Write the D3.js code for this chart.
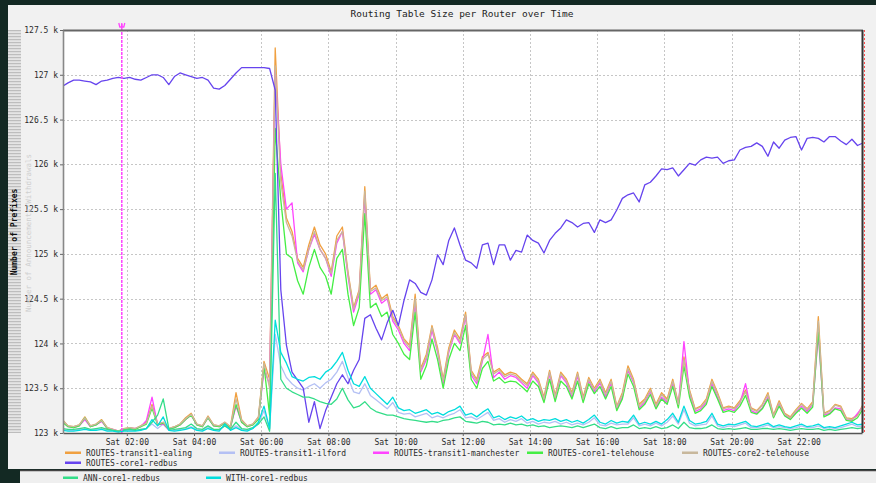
<!DOCTYPE html>
<html>
<head>
<meta charset="utf-8">
<script src="https://cdnjs.cloudflare.com/ajax/libs/d3/7.8.5/d3.min.js"></script>
<style>
html, body { margin: 0; padding: 0; background: #132923; }
#chart { width: 876px; height: 483px; }
text { font-family: "DejaVu Sans Mono", monospace; }
</style>
</head>
<body>
<div id="chart"></div>
<script>
// rrd samples: first one at 00:05, then one every 10 minutes
var startHour = 5 / 60;
var stepHours = 10 / 60;

var seriesNames = ["ROUTES-transit1-ealing", "ROUTES-transit1-ilford", "ROUTES-transit1-manchester",
    "ROUTES-core1-telehouse", "ROUTES-core2-telehouse", "ROUTES-core1-redbus",
    "ANN-core1-redbus", "WITH-core1-redbus"];

var ealing = [123.15,123.08,123.07,123.09,123.18,123.08,123.10,123.15,123.06,123.04,
123.02,123.05,123.06,123.05,123.08,123.12,123.32,123.10,123.12,123.05,
123.07,123.10,123.17,123.22,123.10,123.08,123.19,123.09,123.08,123.12,
123.07,123.45,123.15,123.08,123.10,123.18,123.80,123.60,127.30,125.90,
125.40,125.25,124.95,124.85,125.10,125.30,125.10,125.00,124.80,125.20,
125.30,124.80,124.40,124.60,125.75,124.60,124.65,124.50,124.55,124.30,
124.20,124.05,123.98,124.55,123.72,123.88,124.20,123.95,123.60,123.95,
124.15,124.05,124.35,123.70,123.60,123.85,123.90,123.68,123.72,123.65,
123.68,123.66,123.60,123.55,123.68,123.60,123.40,123.70,123.42,123.68,
123.60,123.45,123.68,123.40,123.62,123.50,123.60,123.45,123.60,123.30,
123.45,123.75,123.60,123.32,123.38,123.50,123.32,123.45,123.38,123.60,
123.33,123.85,123.48,123.27,123.30,123.38,123.60,123.45,123.28,123.30,
123.28,123.36,123.48,123.28,123.25,123.32,123.45,123.20,123.36,123.22,
123.18,123.26,123.33,123.27,123.35,124.30,123.22,123.25,123.32,123.30,
123.17,123.16,123.20,123.32];

var ilford = [123.04,123.03,123.03,123.04,123.05,123.03,123.04,123.05,123.03,123.03,
123.02,123.03,123.03,123.03,123.04,123.05,123.10,123.05,123.10,123.03,
123.03,123.04,123.05,123.07,123.04,123.03,123.06,123.04,123.03,123.08,
123.04,123.08,123.04,123.03,123.05,123.10,123.25,123.04,124.10,123.75,
123.62,123.55,123.50,123.48,123.52,123.55,123.50,123.56,123.60,123.68,
123.80,123.62,123.46,123.44,123.55,123.42,123.37,123.32,123.27,123.34,
123.23,123.21,123.22,123.18,123.20,123.22,123.17,123.19,123.17,123.20,
123.22,123.26,123.17,123.18,123.15,123.19,123.23,123.14,123.16,123.12,
123.15,123.13,123.16,123.11,123.13,123.10,123.12,123.11,123.13,123.10,
123.12,123.09,123.11,123.09,123.12,123.17,123.09,123.08,123.11,123.09,
123.10,123.10,123.17,123.08,123.10,123.08,123.11,123.08,123.12,123.19,
123.10,123.26,123.11,123.08,123.09,123.10,123.19,123.08,123.06,123.08,
123.07,123.09,123.11,123.06,123.06,123.07,123.09,123.06,123.07,123.06,
123.05,123.06,123.08,123.06,123.06,123.08,123.05,123.06,123.05,123.06,
123.08,123.10,123.07,123.08];

var manchester = [123.13,123.07,123.06,123.08,123.15,123.07,123.09,123.13,123.05,123.04,
123.02,123.04,123.05,123.05,123.07,123.14,123.40,123.09,123.10,123.04,
123.06,123.09,123.15,123.20,123.09,123.07,123.17,123.08,123.07,123.11,
123.06,123.30,123.12,123.07,123.09,123.16,123.70,123.55,127.05,126.00,
125.50,125.57,124.90,124.80,125.05,125.22,125.05,124.95,124.75,125.12,
125.25,124.75,124.35,124.55,125.65,124.55,124.60,124.45,124.50,124.25,
124.15,124.00,123.92,124.45,123.68,123.82,124.15,123.90,123.55,123.90,
124.10,124.00,124.30,123.65,123.55,123.80,124.10,123.62,123.68,123.60,
123.64,123.62,123.56,123.50,123.64,123.56,123.36,123.66,123.38,123.64,
123.56,123.40,123.64,123.36,123.58,123.46,123.56,123.40,123.56,123.27,
123.40,123.70,123.56,123.28,123.34,123.46,123.28,123.40,123.34,123.56,
123.30,124.02,123.44,123.24,123.27,123.34,123.55,123.40,123.25,123.27,
123.25,123.33,123.55,123.25,123.22,123.28,123.40,123.18,123.33,123.20,
123.16,123.23,123.30,123.24,123.32,124.10,123.20,123.22,123.28,123.27,
123.15,123.14,123.22,123.30];

var core1Telehouse = [123.12,123.07,123.06,123.08,123.17,123.07,123.09,123.14,123.05,123.03,
123.02,123.04,123.05,123.04,123.07,123.10,123.28,123.09,123.11,123.04,
123.06,123.09,123.15,123.20,123.09,123.07,123.17,123.08,123.07,123.11,
123.06,123.32,123.12,123.07,123.09,123.15,123.75,123.20,126.40,125.60,
125.00,124.95,124.70,124.55,124.85,125.05,124.85,124.75,124.55,124.95,
125.05,124.55,124.20,124.40,125.45,124.40,124.45,124.30,124.35,124.10,
124.00,123.88,123.82,124.35,123.60,123.75,124.05,123.82,123.50,123.82,
124.00,123.92,124.20,123.60,123.50,123.72,123.80,123.58,123.62,123.56,
123.58,123.57,123.52,123.46,123.58,123.52,123.34,123.60,123.35,123.58,
123.52,123.38,123.58,123.34,123.55,123.44,123.52,123.38,123.52,123.25,
123.38,123.66,123.52,123.26,123.32,123.43,123.27,123.38,123.32,123.52,
123.28,123.75,123.40,123.22,123.25,123.32,123.52,123.38,123.23,123.25,
123.23,123.30,123.42,123.23,123.21,123.27,123.38,123.17,123.30,123.19,
123.15,123.22,123.28,123.22,123.29,124.15,123.18,123.21,123.27,123.25,
123.14,123.13,123.17,123.27];

var core2Telehouse = [123.14,123.08,123.07,123.09,123.17,123.08,123.10,123.14,123.06,123.04,
123.02,123.05,123.06,123.05,123.08,123.11,123.30,123.10,123.12,123.05,
123.07,123.10,123.16,123.21,123.10,123.08,123.18,123.09,123.08,123.12,
123.07,123.38,123.14,123.08,123.10,123.17,123.78,123.50,127.10,125.80,
125.35,125.20,124.92,124.82,125.05,125.25,125.05,124.95,124.78,125.15,
125.25,124.78,124.38,124.58,125.70,124.58,124.62,124.48,124.52,124.28,
124.18,124.03,123.95,124.50,123.70,123.85,124.18,123.92,123.58,123.92,
124.12,124.02,124.32,123.68,123.58,123.82,123.88,123.66,123.70,123.63,
123.66,123.64,123.58,123.53,123.66,123.58,123.38,123.68,123.40,123.66,
123.58,123.43,123.66,123.38,123.60,123.48,123.58,123.43,123.58,123.29,
123.43,123.72,123.58,123.30,123.36,123.48,123.30,123.43,123.36,123.58,
123.32,123.82,123.46,123.26,123.29,123.36,123.58,123.43,123.27,123.29,
123.27,123.34,123.46,123.27,123.24,123.31,123.43,123.19,123.34,123.21,
123.17,123.25,123.32,123.26,123.33,124.25,123.21,123.24,123.31,123.29,
123.16,123.15,123.19,123.31];

var core1Redbus = [126.87,126.91,126.94,126.94,126.93,126.92,126.89,126.93,126.94,126.96,
126.97,126.96,126.97,126.95,126.94,126.97,127.00,127.00,126.97,126.89,
126.98,127.02,127.00,126.98,126.96,126.97,126.94,126.85,126.84,126.88,
126.95,127.02,127.08,127.08,127.08,127.08,127.08,127.07,126.83,124.60,
123.98,123.68,123.59,123.50,123.12,123.35,123.05,123.25,123.40,123.55,
123.65,123.55,123.70,123.82,124.28,124.32,124.17,124.04,124.23,124.37,
124.20,124.48,124.71,124.67,124.57,124.54,124.71,124.99,124.88,125.15,
125.29,125.10,124.93,124.90,124.84,125.10,125.12,124.88,125.10,125.10,
124.93,125.04,125.02,125.21,125.15,125.12,125.01,125.15,125.23,125.29,
125.38,125.35,125.30,125.34,125.35,125.24,125.38,125.35,125.38,125.49,
125.62,125.66,125.68,125.58,125.77,125.80,125.87,125.95,125.94,125.96,
125.87,125.94,126.01,125.99,126.05,126.08,126.07,126.08,126.01,126.04,
126.05,126.16,126.19,126.20,126.24,126.20,126.09,126.25,126.18,126.27,
126.30,126.31,126.16,126.29,126.30,126.29,126.25,126.31,126.31,126.26,
126.22,126.28,126.21,126.24];

var annCore1Redbus = [123.05,123.04,123.04,123.05,123.06,123.04,123.05,123.06,123.04,123.03,
123.02,123.03,123.04,123.03,123.04,123.05,123.12,123.20,123.38,123.05,
123.04,123.05,123.06,123.10,123.05,123.04,123.08,123.04,123.04,123.08,
123.04,123.12,123.05,123.04,123.06,123.10,123.18,123.02,125.90,123.60,
123.50,123.46,123.43,123.40,123.40,123.38,123.35,123.33,123.32,123.38,
123.50,123.37,123.28,123.30,123.35,123.28,123.24,123.22,123.20,123.20,
123.18,123.16,123.15,123.14,123.13,123.12,123.13,123.12,123.14,123.15,
123.17,123.18,123.13,123.12,123.11,123.13,123.12,123.09,123.10,123.09,
123.11,123.09,123.10,123.08,123.09,123.07,123.08,123.06,123.07,123.08,
123.07,123.06,123.08,123.06,123.08,123.10,123.06,123.05,123.07,123.05,
123.06,123.06,123.09,123.05,123.06,123.05,123.07,123.05,123.06,123.09,
123.05,123.12,123.06,123.05,123.05,123.06,123.09,123.05,123.04,123.05,
123.04,123.05,123.06,123.04,123.04,123.05,123.05,123.04,123.05,123.04,
123.03,123.04,123.05,123.04,123.04,123.05,123.03,123.04,123.03,123.04,
123.05,123.06,123.05,123.06];

var withCore1Redbus = [123.03,123.02,123.02,123.03,123.04,123.03,123.03,123.04,123.02,123.02,
123.01,123.02,123.02,123.02,123.03,123.05,123.15,123.08,123.18,123.03,
123.02,123.03,123.04,123.06,123.03,123.02,123.05,123.03,123.02,123.10,
123.03,123.06,123.03,123.02,123.05,123.12,123.30,123.05,124.26,123.90,
123.78,123.63,123.60,123.58,123.62,123.63,123.60,123.68,123.72,123.80,
123.90,123.70,123.55,123.52,123.63,123.50,123.44,123.38,123.32,123.40,
123.28,123.25,123.26,123.22,123.24,123.26,123.21,123.23,123.20,123.24,
123.26,123.30,123.20,123.22,123.18,123.23,123.27,123.17,123.19,123.15,
123.18,123.16,123.19,123.14,123.16,123.13,123.15,123.14,123.16,123.13,
123.15,123.12,123.14,123.11,123.15,123.20,123.12,123.10,123.14,123.11,
123.13,123.12,123.20,123.10,123.12,123.10,123.13,123.10,123.15,123.22,
123.12,123.30,123.14,123.10,123.11,123.13,123.22,123.10,123.08,123.10,
123.09,123.11,123.13,123.08,123.07,123.09,123.11,123.07,123.09,123.07,
123.06,123.08,123.10,123.07,123.08,123.10,123.06,123.07,123.06,123.08,
123.10,123.12,123.09,123.10];

var xTickHours = [2, 4, 6, 8, 10, 12, 14, 16, 18, 20, 22];
var xTickLabels = ["Sat 02:00", "Sat 04:00", "Sat 06:00", "Sat 08:00", "Sat 10:00", "Sat 12:00",
    "Sat 14:00", "Sat 16:00", "Sat 18:00", "Sat 20:00", "Sat 22:00"];
var yTickValues = [123, 123.5, 124, 124.5, 125, 125.5, 126, 126.5, 127, 127.5];
var yTickLabels = ["123 k", "123.5 k", "124 k", "124.5 k", "125 k", "125.5 k", "126 k", "126.5 k", "127 k", "127.5 k"];
var eventHours = [1 + 51 / 60];

function RrdGraph() {

    var self = this;

    self.initialize = function (graphConf) {

        self.el = document.getElementById(graphConf.el);
        self.graphWidth = 876;
        self.graphHeight = 483;
        self.plot = { left: 63, top: 30, right: 862, bottom: 433 };
        self.series = graphConf.series;
        self.colors = graphConf.colors;

        self.xScale = d3.scaleLinear()
            .domain([6 / 60, 23 + 53 / 60])
            .range([self.plot.left, self.plot.right]);

        self.yScale = d3.scaleLinear()
            .domain([123, 127.5])
            .range([self.plot.bottom, self.plot.top]);

        self.render();
    }

    self.render = function () {
        self.getCanvas();
        self.renderGrid();
        self.renderLines();
        self.renderAxes();
        self.renderTexts();
        self.renderLegend();
    }

    self.getCanvas = function () {
        self.svg = d3.select(self.el).append("svg")
            .attr("width", self.graphWidth)
            .attr("height", self.graphHeight);

        self.svg.append("rect").attr("width", self.graphWidth).attr("height", self.graphHeight).attr("fill", "#132923");
        self.svg.append("rect").attr("x", 8).attr("y", 5).attr("width", 868).attr("height", 464).attr("fill", "#f1f1f1");

        /*  lower legend strip  */
        self.svg.append("rect").attr("x", 20).attr("y", 470).attr("width", 856).attr("height", 13).attr("fill", "#efefef");
        self.svg.append("line").attr("x1", 20).attr("x2", 876).attr("y1", 470.5).attr("y2", 470.5)
            .attr("stroke", "#444").attr("stroke-width", 1.5);

        /*  striped column on the left  */
        var defs = self.svg.append("defs");
        var pat = defs.append("pattern").attr("id", "stripes").attr("patternUnits", "userSpaceOnUse")
            .attr("width", 13).attr("height", 3);
        pat.append("rect").attr("width", 13).attr("height", 3).attr("fill", "#e4e4e4");
        pat.append("rect").attr("width", 13).attr("height", 1.2).attr("fill", "#bdbdbd");
        self.svg.append("rect").attr("x", 8).attr("y", 30).attr("width", 13).attr("height", 403).attr("fill", "url(#stripes)");

        defs.append("clipPath").attr("id", "plotClip").append("rect")
            .attr("x", self.plot.left).attr("y", self.plot.top - 10)
            .attr("width", self.plot.right - self.plot.left).attr("height", self.plot.bottom - self.plot.top + 10);

        self.svg.append("rect")
            .attr("x", self.plot.left).attr("y", self.plot.top)
            .attr("width", self.plot.right - self.plot.left).attr("height", self.plot.bottom - self.plot.top)
            .attr("fill", "#ffffff");
    }

    self.renderGrid = function () {
        var g = self.svg.append("g").attr("class", "grid");

        g.selectAll(".hgrid")
            .data(yTickValues.slice(1, -1))
            .enter().append("line")
            .attr("x1", self.plot.left).attr("x2", self.plot.right)
            .attr("y1", function (d) { return Math.round(self.yScale(d)) + 0.5; })
            .attr("y2", function (d) { return Math.round(self.yScale(d)) + 0.5; })
            .attr("stroke", "#c6c6c6").attr("stroke-dasharray", "2,2");

        g.selectAll(".vgrid")
            .data(xTickHours)
            .enter().append("line")
            .attr("y1", self.plot.top).attr("y2", self.plot.bottom)
            .attr("x1", function (d) { return Math.round(self.xScale(d)) + 0.5; })
            .attr("x2", function (d) { return Math.round(self.xScale(d)) + 0.5; })
            .attr("stroke", "#c6c6c6").attr("stroke-dasharray", "2,2");
    }

    self.renderLines = function () {
        var line = d3.line()
            .x(function (d, i) { return self.xScale(startHour + i * stepHours); })
            .y(function (d) { return self.yScale(d); });

        var g = self.svg.append("g").attr("clip-path", "url(#plotClip)");

        g.selectAll(".series")
            .data(self.series)
            .enter().append("path")
            .attr("class", "series")
            .attr("d", function (d) { return line(d.values); })
            .attr("fill", "none")
            .attr("stroke", function (d, i) { return self.colors[i]; })
            .attr("stroke-width", 1.3)
            .attr("stroke-linejoin", "round");

        /*  event marker  */
        g.selectAll(".event")
            .data(eventHours)
            .enter().append("line")
            .attr("x1", function (d) { return self.xScale(d); })
            .attr("x2", function (d) { return self.xScale(d); })
            .attr("y1", self.plot.top - 6).attr("y2", self.plot.bottom)
            .attr("stroke", "#ff44ff").attr("stroke-width", 1.5).attr("stroke-dasharray", "3,1");

        self.svg.selectAll(".eventMark")
            .data(eventHours)
            .enter().append("path")
            .attr("transform", function (d) { return "translate(" + self.xScale(d) + ",27)"; })
            .attr("d", "M-3,-4 L-2,0 L2,0 L3,-4 M0,-4 L0,1")
            .attr("fill", "none").attr("stroke", "#ff44ff").attr("stroke-width", 1.3);
    }

    self.renderAxes = function () {
        var p = self.plot;
        self.svg.append("line").attr("x1", p.left).attr("x2", p.right + 1).attr("y1", p.top + 0.5).attr("y2", p.top + 0.5)
            .attr("stroke", "#666").attr("stroke-width", 2);
        self.svg.append("line").attr("x1", p.right + 0.5).attr("x2", p.right + 0.5).attr("y1", p.top).attr("y2", p.bottom)
            .attr("stroke", "#333").attr("stroke-width", 2);
        self.svg.append("line").attr("x1", p.right + 2.5).attr("x2", p.right + 2.5).attr("y1", p.top).attr("y2", p.bottom)
            .attr("stroke", "#ff5050").attr("stroke-width", 1).attr("stroke-dasharray", "2,2");

        var xAxis = self.svg.append("g")
            .attr("transform", "translate(0," + p.bottom + ")")
            .call(d3.axisBottom(self.xScale).tickValues(xTickHours)
                .tickFormat(function (d, i) { return xTickLabels[i]; })
                .tickSize(3).tickSizeOuter(0));

        var yAxis = self.svg.append("g")
            .attr("transform", "translate(" + p.left + ",0)")
            .call(d3.axisLeft(self.yScale).tickValues(yTickValues)
                .tickFormat(function (d, i) { return yTickLabels[i]; })
                .tickSize(3).tickSizeOuter(0));

        xAxis.select(".domain").attr("stroke", "#555").attr("stroke-width", 1.6);
        yAxis.select(".domain").attr("stroke", "#888").attr("stroke-width", 1.6);
        self.svg.selectAll(".tick line").attr("stroke", "#666");
        self.svg.selectAll(".tick text")
            .style("font-family", "'DejaVu Sans Mono', monospace")
            .style("font-size", "8px")
            .attr("fill", "#2a2a2a");
        xAxis.selectAll(".tick text").attr("y", 6);
        yAxis.selectAll(".tick text").attr("x", -5);
    }

    self.renderTexts = function () {
        self.svg.append("text")
            .attr("x", 462).attr("y", 17)
            .attr("text-anchor", "middle")
            .style("font-size", "9.5px")
            .attr("fill", "#222")
            .text("Routing Table Size per Router over Time");

        self.svg.append("text")
            .attr("transform", "translate(17,232) rotate(-90)")
            .attr("text-anchor", "middle")
            .style("font-size", "8px").style("font-weight", "bold")
            .attr("fill", "#111")
            .text("Number of Prefixes");

        self.svg.append("text")
            .attr("transform", "translate(31,233) rotate(-90)")
            .attr("text-anchor", "middle")
            .style("font-size", "7.5px")
            .attr("fill", "#cfcfcf")
            .text("Number of Announcements/Withdrawals");
    }

    self.renderLegend = function () {
        /*  legend slots: first five in one row, redbus below, ANN/WITH in the lower strip  */
        var slots = [[65, 453], [219, 453], [373, 453], [527, 453], [682, 453], [65, 463], [63, 478], [206, 478]];

        var item = self.svg.selectAll(".legend")
            .data(self.series)
            .enter().append("g")
            .attr("class", "legend")
            .attr("transform", function (d, i) { return "translate(" + slots[i][0] + "," + slots[i][1] + ")"; });

        item.append("rect")
            .attr("x", 0).attr("y", -1.5)
            .attr("width", function (d, i) { return i >= 6 ? 15 : 16; })
            .attr("height", 2.5)
            .attr("fill", function (d, i) { return self.colors[i]; });

        item.append("text")
            .attr("x", function (d, i) { return i >= 6 ? 20 : 21; })
            .attr("y", 3)
            .style("font-size", "8px")
            .attr("fill", "#2a2a2a")
            .text(function (d) { return d.name; });
    }
}

var allValues = [ealing, ilford, manchester, core1Telehouse, core2Telehouse, core1Redbus, annCore1Redbus, withCore1Redbus];

var graph = new RrdGraph();
graph.initialize({
    el: "chart",
    series: seriesNames.map(function (n, i) { return { name: n, values: allValues[i] }; }),
    colors: ["#f0a040", "#b4c0f4", "#ff44ff", "#44ee44", "#c8b89c", "#6644ee", "#33dd88", "#00dddd"]
});
</script>
</body>
</html>
